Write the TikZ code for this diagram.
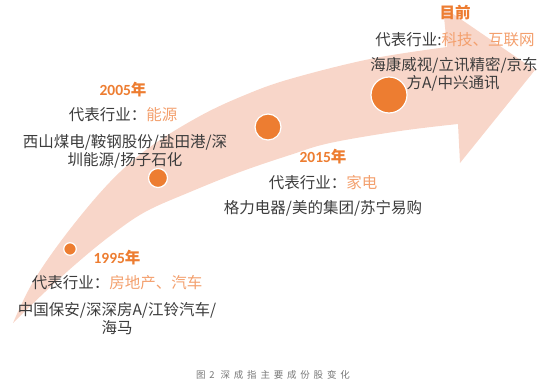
\documentclass[tikz,border=0pt]{standalone}
\usepackage{fontspec}
\setmainfont{Noto Sans CJK SC}
\newfontfamily\numfont{Carlito}
\definecolor{bandc}{RGB}{248,214,201}
\definecolor{dotc}{RGB}{237,125,49}
\definecolor{lightor}{RGB}{243,160,110}
\definecolor{txtc}{RGB}{60,60,60}
\definecolor{capc}{RGB}{120,120,120}
\tikzset{
  dotnode/.style={circle,fill=dotc,draw=white,line width=1.2pt,inner sep=0pt,minimum size=#1},
  yearlbl/.style={text=dotc,font=\fontsize{15.5}{18}\selectfont\bfseries,inner sep=0pt},
  indlbl/.style={text=txtc,font=\fontsize{15.5}{18}\selectfont,inner sep=0pt},
  complbl/.style={text=txtc,font=\fontsize{15.5}{18}\selectfont,inner sep=0pt},
  caplbl/.style={text=capc,font=\fontsize{9.5}{11}\selectfont\addfontfeature{LetterSpace=40},inner sep=0pt}
}
\begin{document}
\begin{tikzpicture}[x=1pt,y=-1pt]
\useasboundingbox (0,0) rectangle (554,391);
% curved arrow band
\fill[bandc] plot[smooth,tension=0.6] coordinates {(13,323) (33,282) (67,233) (110,182) (150,147) (200,116) (245,95) (290,79) (370,59) (447,47)}
  -- (443,7) -- (535,70) -- (460,163) -- (458,124)
  -- plot[smooth,tension=0.6] coordinates {(458,124) (400,131) (330,143) (290,155) (240,172) (190,192) (145,212) (110,236) (77,263) (45,292) (13,323)} -- cycle;
% dots
\node[dotnode=12.5pt] (d1995) at (70,249) {};
\node[dotnode=19pt] (d2005) at (158,178) {};
\node[dotnode=26pt] (d2015) at (268,127) {};
\node[dotnode=36pt] (dnow) at (389,95) {};
% 1995
\node[yearlbl] (y1995) at (117,258) {{\numfont 1995}年};
\node[indlbl] (i1995) at (117,283) {代表行业：\textcolor{lightor}{房地产、汽车}};
\node[complbl] (c1995a) at (117,310) {中国保安/深深房A/江铃汽车/};
\node[complbl] (c1995b) at (117,328) {海马};
% 2005
\node[yearlbl] (y2005) at (123,90) {{\numfont 2005}年};
\node[indlbl] (i2005) at (123,115) {代表行业：\textcolor{lightor}{能源}};
\node[complbl] (c2005a) at (125,142) {西山煤电/鞍钢股份/盐田港/深};
\node[complbl] (c2005b) at (125,160) {圳能源/扬子石化};
% 2015
\node[yearlbl] (y2015) at (323,157) {{\numfont 2015}年};
\node[indlbl] (i2015) at (323,183) {代表行业：\textcolor{lightor}{家电}};
\node[complbl] (c2015) at (323,208) {格力电器/美的集团/苏宁易购};
% now
\node[yearlbl] (ynow) at (455,13) {目前};
\node[indlbl] (inow) at (455,40) {代表行业:\textcolor{lightor}{科技、互联网}};
\node[complbl] (cnowa) at (454,65) {海康威视/立讯精密/京东};
\node[complbl] (cnowb) at (453,83) {方A/中兴通讯};
% caption
\node[caplbl] (cap) at (273,375) {图2 深成指主要成份股变化};
\end{tikzpicture}
\end{document}
